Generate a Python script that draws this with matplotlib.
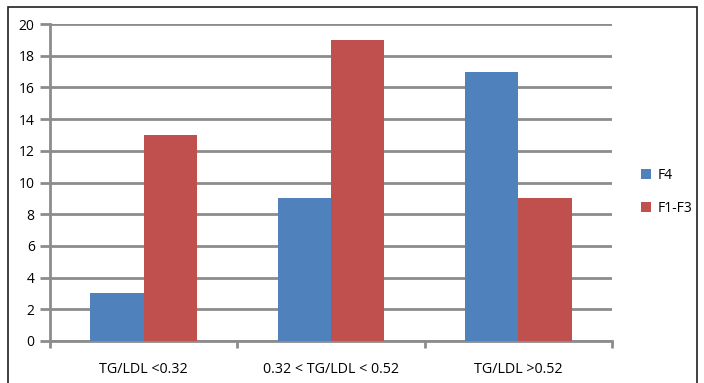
import matplotlib.pyplot as plt
import numpy as np
from matplotlib.patches import Rectangle

categories = ["TG/LDL <0.32", "0.32 < TG/LDL < 0.52", "TG/LDL >0.52"]
series_names = ["F4", "F1-F3"]
f4_values = [3, 9, 17]
f1_f3_values = [13, 19, 9]
y_ticks = list(range(0, 21, 2))

BLUE = "#4F81BD"
RED = "#C0504D"
GRID = "#8C8C8C"

plt.rcParams["font.family"] = ["Open Sans", "DejaVu Sans"]

fig = plt.figure(figsize=(7.04, 3.83), dpi=100)
ax = fig.add_axes([50 / 704, 1 - 341 / 383, 562 / 704, 317 / 383])

x = np.arange(len(categories))
width = 0.285
ax.bar(x - width / 2, f4_values, width, color=BLUE, label=series_names[0], zorder=3)
ax.bar(x + width / 2, f1_f3_values, width, color=RED, label=series_names[1], zorder=3)

ax.set_xlim(-0.5, len(categories) - 0.5)
ax.set_ylim(0, 20)
ax.set_yticks(y_ticks)
ax.yaxis.grid(True, color=GRID, linewidth=2, zorder=0)
ax.set_axisbelow(True)

# category labels sit between the boundary ticks
ax.set_xticks(x)
ax.set_xticklabels(categories, fontsize=10.3)
ax.set_xticks(np.arange(len(categories) + 1) - 0.5, minor=True)
ax.tick_params(axis="x", which="major", length=0, pad=15)
ax.tick_params(axis="x", which="minor", length=5, width=2, color=GRID)
ax.tick_params(axis="y", length=7, width=2, color=GRID, labelsize=10, pad=4)

for side in ("top", "right"):
    ax.spines[side].set_visible(False)
for side in ("left", "bottom"):
    ax.spines[side].set_color(GRID)
    ax.spines[side].set_linewidth(2)

ax.legend(loc="center left", bbox_to_anchor=(1.03, 0.47), frameon=False,
          fontsize=10, handlelength=0.7, handleheight=0.7, labelspacing=1.3,
          handletextpad=0.5)

# outer chart frame
fig.patches.append(Rectangle((8 / 704, -0.01), 689 / 704, 1 - 7 / 383 + 0.01,
                             transform=fig.transFigure, fill=False,
                             edgecolor="#202020", linewidth=1.2))

fig.savefig("out.png", dpi=100)
